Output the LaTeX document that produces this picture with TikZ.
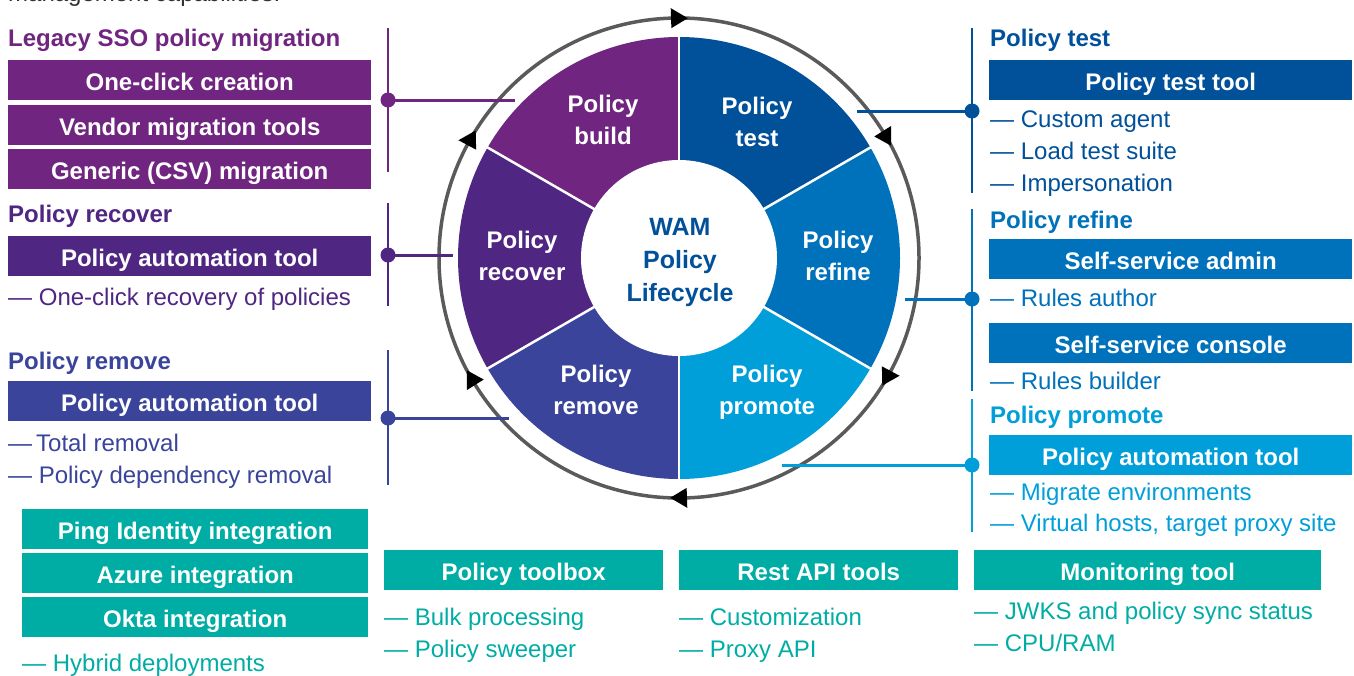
\documentclass[tikz,border=0pt]{standalone}
\usepackage{fontspec}
\setmainfont{Liberation Sans}
\usetikzlibrary{arrows.meta}
\definecolor{cBuild}{RGB}{112,38,128}
\definecolor{cRecover}{RGB}{80,38,131}
\definecolor{cRemove}{RGB}{58,68,155}
\definecolor{cTest}{RGB}{0,80,154}
\definecolor{cRefine}{RGB}{0,114,188}
\definecolor{cPromote}{RGB}{0,159,218}
\definecolor{cTeal}{RGB}{0,173,165}
\definecolor{cRing}{RGB}{90,90,90}
\definecolor{cTop}{RGB}{51,51,51}
\tikzset{
  bar/.style={fill=#1, text=white, font=\fontsize{24}{32}\selectfont\bfseries, inner sep=0pt,
    text height=20pt, text depth=0pt, minimum height=40pt, anchor=north west},
  head/.style={text=#1, font=\fontsize{24}{32}\selectfont\bfseries, inner sep=0pt, anchor=base west},
  item/.style={text=#1, font=\fontsize{24}{32}\selectfont, inner sep=0pt, anchor=base west},
  dot/.style={circle, fill=#1, inner sep=0pt, minimum size=15pt},
  vline/.style={draw=#1, line width=2pt},
  hline/.style={draw=#1, line width=3pt},
  seglabel/.style={text=white, font=\fontsize{24}{32}\selectfont\bfseries, align=center, inner sep=0pt},
  hub/.style={circle, fill=white, minimum size=196pt, inner sep=0pt},
  hubtext/.style={text=cTest, font=\fontsize{25}{33}\selectfont\bfseries, align=center, inner sep=0pt},
}
\begin{document}
\begin{tikzpicture}[x=1pt,y=-1pt]
\useasboundingbox (0,0) rectangle (1354,675);
\fill[white] (0,0) rectangle (1354,675);

% partial top line
\node[item=cTop] (topline) at (8,1) {management capabilities.};

% ---------- wheel ----------
\begin{scope}[shift={(679,258)}, x=1pt, y=1pt]
  \foreach \a/\c in {90/cBuild, 30/cTest, -30/cRefine, -90/cPromote, -150/cRemove, 150/cRecover}
    \fill[\c] (0,0) -- (\a:221) arc[start angle=\a, end angle={\a+60}, radius=221] -- cycle;
  \foreach \a in {90,30,-30,-90,-150,150}
    \draw[white, line width=2.5pt] (0,0) -- (\a:222);
  \draw[cRing, line width=3.5pt] (0,0) circle[radius=240];
  \foreach \a in {90,30,-30,-90,-150,150}
    \fill[black] ({\a-2.1}:240) -- ({\a+1.9}:250) -- ({\a+1.9}:230) -- cycle;
\end{scope}
\node[hub] (hub) at (679,258) {};
\node[hubtext] (hubLabel) at (680,262) {WAM\\Policy\\Lifecycle};
\node[seglabel] (lBuild) at (603,120) {Policy\\build};
\node[seglabel] (lTest) at (757,122) {Policy\\test};
\node[seglabel] (lRefine) at (838,256) {Policy\\refine};
\node[seglabel] (lPromote) at (767,392) {Policy\\promote};
\node[seglabel] (lRemove) at (596,390) {Policy\\remove};
\node[seglabel] (lRecover) at (522,256) {Policy\\recover};

% ---------- left column ----------
\node[head=cBuild] (hLeg) at (8,46) {Legacy SSO policy migration};
\node[bar=cBuild, minimum width=363pt] (bLeg1) at (8,60) {One-click creation};
\node[bar=cBuild, minimum width=363pt] (bLeg2) at (8,105) {Vendor migration tools};
\node[bar=cBuild, minimum width=363pt] (bLeg3) at (8,149) {Generic (CSV) migration};

\node[head=cRecover] (hRec) at (8,222) {Policy recover};
\node[bar=cRecover, minimum width=363pt] (bRec) at (8,236) {Policy automation tool};
\node[item=cRecover] (iRec1) at (8,305) {— One-click recovery of policies};

\node[head=cRemove] (hRem) at (8,369) {Policy remove};
\node[bar=cRemove, minimum width=363pt] (bRem) at (8,381) {Policy automation tool};
\node[item=cRemove] (iRem1) at (8,451) {—\,Total removal};
\node[item=cRemove] (iRem2) at (8,483) {— Policy dependency removal};

% left connectors
\coordinate (vLegA) at (388,28); \coordinate (vLegB) at (388,172);
\coordinate (vRecA) at (388,203); \coordinate (vRecB) at (388,306);
\coordinate (vRemA) at (388,350); \coordinate (vRemB) at (388,485);
\draw[vline=cBuild] (vLegA) -- (vLegB);
\draw[vline=cRecover] (vRecA) -- (vRecB);
\draw[vline=cRemove] (vRemA) -- (vRemB);
\node[dot=cBuild] (dLeg) at (388,100) {};
\node[dot=cRecover] (dRec) at (388,255) {};
\node[dot=cRemove] (dRem) at (388,418) {};
\coordinate (eLeg) at (515,100);
\coordinate (eRec) at (453,255);
\coordinate (eRem) at (509,418);
\draw[hline=cBuild] (dLeg.center) -- (eLeg);
\draw[hline=cRecover] (dRec.center) -- (eRec);
\draw[hline=cRemove] (dRem.center) -- (eRem);

% ---------- right column ----------
\node[head=cTest] (hTest) at (990,46) {Policy test};
\node[bar=cTest, minimum width=363pt] (bTest) at (989,60) {Policy test tool};
\node[item=cTest] (iTest1) at (990,127) {— Custom agent};
\node[item=cTest] (iTest2) at (990,159) {— Load test suite};
\node[item=cTest] (iTest3) at (990,191) {— Impersonation};

\node[head=cRefine] (hRef) at (990,228) {Policy refine};
\node[bar=cRefine, minimum width=363pt] (bAdmin) at (989,239) {Self-service admin};
\node[item=cRefine] (iRef1) at (990,306) {— Rules author};
\node[bar=cRefine, minimum width=363pt] (bConsole) at (989,323) {Self-service console};
\node[item=cRefine] (iRef2) at (990,389) {— Rules builder};

\node[head=cPromote] (hProm) at (990,423) {Policy promote};
\node[bar=cPromote, minimum width=363pt] (bProm) at (989,435) {Policy automation tool};
\node[item=cPromote] (iProm1) at (990,500) {— Migrate environments};
\node[item=cPromote] (iProm2) at (990,531) {— Virtual hosts, target proxy site};

% right connectors
\coordinate (vTestA) at (972,28); \coordinate (vTestB) at (972,193);
\coordinate (vRefA) at (972,209); \coordinate (vRefB) at (972,391);
\coordinate (vPromA) at (972,399); \coordinate (vPromB) at (972,532);
\draw[vline=cTest] (vTestA) -- (vTestB);
\draw[vline=cRefine] (vRefA) -- (vRefB);
\draw[vline=cPromote] (vPromA) -- (vPromB);
\node[dot=cTest] (dTest) at (972,111) {};
\node[dot=cRefine] (dRef) at (972,299) {};
\node[dot=cPromote] (dProm) at (972,465) {};
\coordinate (eTest) at (857,111);
\coordinate (eRef) at (905,299);
\coordinate (eProm) at (782,465);
\draw[hline=cTest] (dTest.center) -- (eTest);
\draw[hline=cRefine] (dRef.center) -- (eRef);
\draw[hline=cPromote] (dProm.center) -- (eProm);

% ---------- bottom ----------
\node[bar=cTeal, minimum width=346pt] (bPing) at (22,509) {Ping Identity integration};
\node[bar=cTeal, minimum width=346pt] (bAzure) at (22,553) {Azure integration};
\node[bar=cTeal, minimum width=346pt] (bOkta) at (22,597) {Okta integration};
\node[item=cTeal] (iHyb) at (22,671) {— Hybrid deployments};

\node[bar=cTeal, minimum width=279pt] (bTool) at (384,550) {Policy toolbox};
\node[item=cTeal] (iTool1) at (384,625) {— Bulk processing};
\node[item=cTeal] (iTool2) at (384,657) {— Policy sweeper};

\node[bar=cTeal, minimum width=279pt] (bRest) at (679,550) {Rest API tools};
\node[item=cTeal] (iRest1) at (679,625) {— Customization};
\node[item=cTeal] (iRest2) at (679,657) {— Proxy API};

\node[bar=cTeal, minimum width=347pt] (bMon) at (974,550) {Monitoring tool};
\node[item=cTeal] (iMon1) at (974,619) {— JWKS and policy sync status};
\node[item=cTeal] (iMon2) at (974,651) {— CPU/RAM};
\end{tikzpicture}
\end{document}
